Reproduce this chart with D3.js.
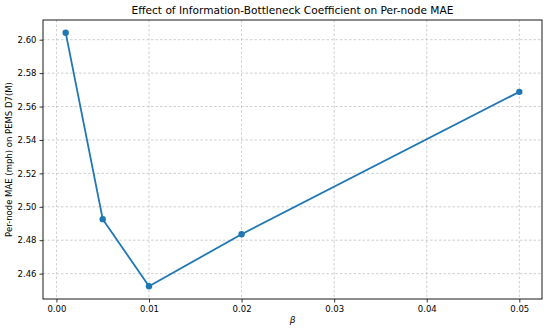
<!DOCTYPE html>
<html><head><meta charset="utf-8">
<script src="https://cdn.jsdelivr.net/npm/d3@7"></script>
<style>body{margin:0;background:#fff}svg{display:block;font-family:"DejaVu Sans",sans-serif}</style>
</head><body><svg id="c" width="550" height="329"></svg>
<script>
const betas = [0.001, 0.005, 0.01, 0.02, 0.05];
const mae = [2.6042, 2.4926, 2.4524, 2.4836, 2.5688];
const xTicks = [0, 0.01, 0.02, 0.03, 0.04, 0.05];
const yTicks = [2.46, 2.48, 2.50, 2.52, 2.54, 2.56, 2.58, 2.60];
const title = "Effect of Information-Bottleneck Coefficient on Per-node MAE";
const xLabel = "β";
const yLabel = "Per-node MAE (mph) on PEMS D7(M)";

const svg = d3.select("#c");
const m = {l:43, r:542, t:20, b:299};
const xr = d3.extent(betas), yr = d3.extent(mae);
const xp = (xr[1]-xr[0])*0.05, yp = (yr[1]-yr[0])*0.05;
const x = d3.scaleLinear().domain([xr[0]-xp, xr[1]+xp]).range([m.l, m.r]);
const y = d3.scaleLinear().domain([yr[0]-yp, yr[1]+yp]).range([m.b, m.t]);

// grid
svg.append("g").selectAll("line").data(xTicks).join("line")
  .attr("x1", d=>x(d)).attr("x2", d=>x(d)).attr("y1", m.t).attr("y2", m.b)
  .attr("stroke", "#b0b0b0").attr("stroke-width", 0.8).attr("stroke-dasharray", "2.5,2").attr("opacity", 0.75);
svg.append("g").selectAll("line").data(yTicks).join("line")
  .attr("y1", d=>y(d)).attr("y2", d=>y(d)).attr("x1", m.l).attr("x2", m.r)
  .attr("stroke", "#b0b0b0").attr("stroke-width", 0.8).attr("stroke-dasharray", "2.5,2").attr("opacity", 0.75);

// axes
const xa = svg.append("g").attr("transform", `translate(0,${m.b})`)
  .call(d3.axisBottom(x).tickValues(xTicks).tickFormat(d3.format(".2f")).tickSize(3.5).tickPadding(3));
const ya = svg.append("g").attr("transform", `translate(${m.l},0)`)
  .call(d3.axisLeft(y).tickValues(yTicks).tickFormat(d3.format(".2f")).tickSize(3.5).tickPadding(3));
[xa, ya].forEach(a => {
  a.select(".domain").remove();
  a.selectAll("text").attr("font-size", 8.5).attr("fill", "#000").attr("font-family", "DejaVu Sans");
  a.selectAll("line").attr("stroke", "#000").attr("stroke-width", 0.8);
});

// frame
svg.append("rect").attr("x", m.l).attr("y", m.t).attr("width", m.r-m.l).attr("height", m.b-m.t)
  .attr("fill", "none").attr("stroke", "#000").attr("stroke-width", 0.9);

// line
const pts = betas.map((b,i)=>[b, mae[i]]);
svg.append("path").datum(pts)
  .attr("d", d3.line().x(d=>x(d[0])).y(d=>y(d[1])))
  .attr("fill", "none").attr("stroke", "#1f77b4").attr("stroke-width", 1.8).attr("stroke-linejoin", "round");
svg.append("g").selectAll("circle").data(pts).join("circle")
  .attr("cx", d=>x(d[0])).attr("cy", d=>y(d[1])).attr("r", 3.2).attr("fill", "#1f77b4");

// texts
svg.append("text").attr("x", (m.l+m.r)/2).attr("y", 14).attr("text-anchor", "middle")
  .attr("font-size", 10.6).text(title);
svg.append("text").attr("x", (m.l+m.r)/2).attr("y", 323).attr("text-anchor", "middle")
  .attr("font-size", 9).attr("font-style", "italic").text(xLabel);
svg.append("text").attr("transform", `translate(12,${(m.t+m.b)/2}) rotate(-90)`).attr("text-anchor", "middle")
  .attr("font-size", 8.5).text(yLabel);
</script></body></html>
